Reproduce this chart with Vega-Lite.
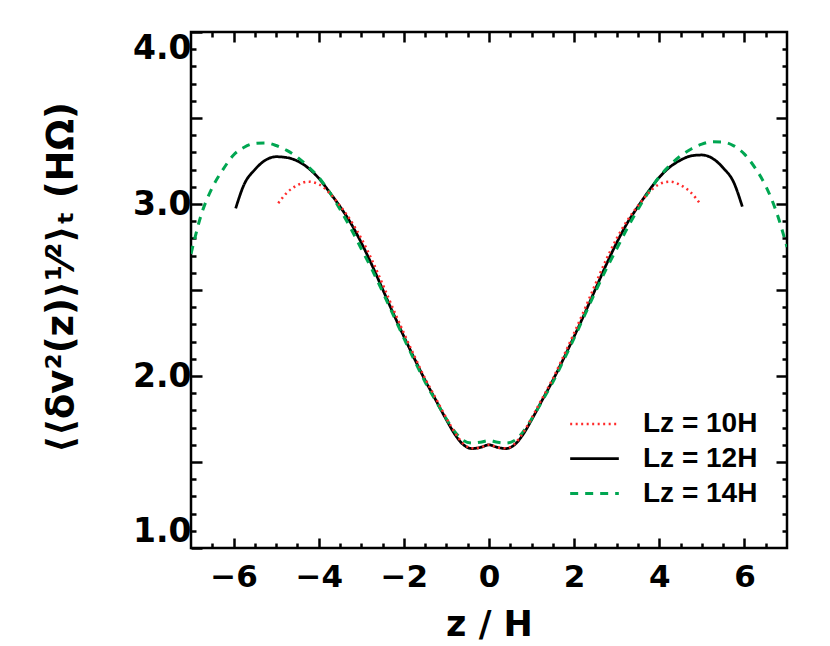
{
  "$schema": "https://vega.github.io/schema/vega-lite/v6.json",
  "width": 596,
  "height": 516,
  "autosize": {"type": "none"},
  "padding": {"left": 191, "top": 32, "right": 43, "bottom": 98},
  "background": "white",
  "config": {
    "view": {"stroke": "black", "strokeWidth": 2.5},
    "axis": {
      "domain": false, "grid": false, "tickColor": "black", "tickWidth": 2.5,
      "labelColor": "black", "titleColor": "black",
      "labelFont": "DejaVu Sans", "titleFont": "DejaVu Sans",
      "labelFontWeight": "bold", "titleFontWeight": "bold"
    }
  },
  "datasets": {
    "curves": [
      {"series": "Lz = 12H", "z": -5.95, "v": 2.975},
      {"series": "Lz = 12H", "z": -5.75, "v": 3.115},
      {"series": "Lz = 12H", "z": -5.5, "v": 3.2},
      {"series": "Lz = 12H", "z": -5.25, "v": 3.255},
      {"series": "Lz = 12H", "z": -5.0, "v": 3.275},
      {"series": "Lz = 12H", "z": -4.75, "v": 3.27},
      {"series": "Lz = 12H", "z": -4.5, "v": 3.25},
      {"series": "Lz = 12H", "z": -4.25, "v": 3.21},
      {"series": "Lz = 12H", "z": -4.0, "v": 3.15},
      {"series": "Lz = 12H", "z": -3.75, "v": 3.07},
      {"series": "Lz = 12H", "z": -3.5, "v": 2.985},
      {"series": "Lz = 12H", "z": -3.25, "v": 2.89},
      {"series": "Lz = 12H", "z": -3.0, "v": 2.775},
      {"series": "Lz = 12H", "z": -2.75, "v": 2.645},
      {"series": "Lz = 12H", "z": -2.5, "v": 2.505},
      {"series": "Lz = 12H", "z": -2.25, "v": 2.365},
      {"series": "Lz = 12H", "z": -2.0, "v": 2.23},
      {"series": "Lz = 12H", "z": -1.75, "v": 2.1},
      {"series": "Lz = 12H", "z": -1.5, "v": 1.975},
      {"series": "Lz = 12H", "z": -1.25, "v": 1.86},
      {"series": "Lz = 12H", "z": -1.0, "v": 1.745},
      {"series": "Lz = 12H", "z": -0.8, "v": 1.66},
      {"series": "Lz = 12H", "z": -0.6, "v": 1.6},
      {"series": "Lz = 12H", "z": -0.4, "v": 1.578},
      {"series": "Lz = 12H", "z": -0.2, "v": 1.585},
      {"series": "Lz = 12H", "z": 0.0, "v": 1.6},
      {"series": "Lz = 12H", "z": 0.2, "v": 1.585},
      {"series": "Lz = 12H", "z": 0.4, "v": 1.578},
      {"series": "Lz = 12H", "z": 0.6, "v": 1.6},
      {"series": "Lz = 12H", "z": 0.8, "v": 1.66},
      {"series": "Lz = 12H", "z": 1.0, "v": 1.745},
      {"series": "Lz = 12H", "z": 1.25, "v": 1.86},
      {"series": "Lz = 12H", "z": 1.5, "v": 1.975},
      {"series": "Lz = 12H", "z": 1.75, "v": 2.1},
      {"series": "Lz = 12H", "z": 2.0, "v": 2.23},
      {"series": "Lz = 12H", "z": 2.25, "v": 2.365},
      {"series": "Lz = 12H", "z": 2.5, "v": 2.505},
      {"series": "Lz = 12H", "z": 2.75, "v": 2.645},
      {"series": "Lz = 12H", "z": 3.0, "v": 2.775},
      {"series": "Lz = 12H", "z": 3.25, "v": 2.89},
      {"series": "Lz = 12H", "z": 3.5, "v": 2.985},
      {"series": "Lz = 12H", "z": 3.75, "v": 3.075},
      {"series": "Lz = 12H", "z": 4.0, "v": 3.155},
      {"series": "Lz = 12H", "z": 4.25, "v": 3.215},
      {"series": "Lz = 12H", "z": 4.5, "v": 3.255},
      {"series": "Lz = 12H", "z": 4.75, "v": 3.28},
      {"series": "Lz = 12H", "z": 5.0, "v": 3.285},
      {"series": "Lz = 12H", "z": 5.25, "v": 3.265},
      {"series": "Lz = 12H", "z": 5.5, "v": 3.21},
      {"series": "Lz = 12H", "z": 5.75, "v": 3.125},
      {"series": "Lz = 12H", "z": 5.95, "v": 2.985},

      {"series": "Lz = 14H", "z": -7.0, "v": 2.71},
      {"series": "Lz = 14H", "z": -6.75, "v": 2.945},
      {"series": "Lz = 14H", "z": -6.5, "v": 3.095},
      {"series": "Lz = 14H", "z": -6.25, "v": 3.2},
      {"series": "Lz = 14H", "z": -6.0, "v": 3.285},
      {"series": "Lz = 14H", "z": -5.75, "v": 3.33},
      {"series": "Lz = 14H", "z": -5.5, "v": 3.352},
      {"series": "Lz = 14H", "z": -5.25, "v": 3.355},
      {"series": "Lz = 14H", "z": -5.0, "v": 3.34},
      {"series": "Lz = 14H", "z": -4.75, "v": 3.312},
      {"series": "Lz = 14H", "z": -4.5, "v": 3.272},
      {"series": "Lz = 14H", "z": -4.25, "v": 3.218},
      {"series": "Lz = 14H", "z": -4.0, "v": 3.155},
      {"series": "Lz = 14H", "z": -3.75, "v": 3.07},
      {"series": "Lz = 14H", "z": -3.5, "v": 2.97},
      {"series": "Lz = 14H", "z": -3.25, "v": 2.86},
      {"series": "Lz = 14H", "z": -3.0, "v": 2.74},
      {"series": "Lz = 14H", "z": -2.75, "v": 2.62},
      {"series": "Lz = 14H", "z": -2.5, "v": 2.49},
      {"series": "Lz = 14H", "z": -2.25, "v": 2.355},
      {"series": "Lz = 14H", "z": -2.0, "v": 2.22},
      {"series": "Lz = 14H", "z": -1.75, "v": 2.09},
      {"series": "Lz = 14H", "z": -1.5, "v": 1.965},
      {"series": "Lz = 14H", "z": -1.25, "v": 1.855},
      {"series": "Lz = 14H", "z": -1.0, "v": 1.75},
      {"series": "Lz = 14H", "z": -0.8, "v": 1.675},
      {"series": "Lz = 14H", "z": -0.6, "v": 1.625},
      {"series": "Lz = 14H", "z": -0.4, "v": 1.61},
      {"series": "Lz = 14H", "z": -0.2, "v": 1.615},
      {"series": "Lz = 14H", "z": 0.0, "v": 1.625},
      {"series": "Lz = 14H", "z": 0.2, "v": 1.615},
      {"series": "Lz = 14H", "z": 0.4, "v": 1.61},
      {"series": "Lz = 14H", "z": 0.6, "v": 1.625},
      {"series": "Lz = 14H", "z": 0.8, "v": 1.675},
      {"series": "Lz = 14H", "z": 1.0, "v": 1.75},
      {"series": "Lz = 14H", "z": 1.25, "v": 1.855},
      {"series": "Lz = 14H", "z": 1.5, "v": 1.965},
      {"series": "Lz = 14H", "z": 1.75, "v": 2.09},
      {"series": "Lz = 14H", "z": 2.0, "v": 2.22},
      {"series": "Lz = 14H", "z": 2.25, "v": 2.355},
      {"series": "Lz = 14H", "z": 2.5, "v": 2.49},
      {"series": "Lz = 14H", "z": 2.75, "v": 2.62},
      {"series": "Lz = 14H", "z": 3.0, "v": 2.74},
      {"series": "Lz = 14H", "z": 3.25, "v": 2.86},
      {"series": "Lz = 14H", "z": 3.5, "v": 2.97},
      {"series": "Lz = 14H", "z": 3.75, "v": 3.07},
      {"series": "Lz = 14H", "z": 4.0, "v": 3.158},
      {"series": "Lz = 14H", "z": 4.25, "v": 3.225},
      {"series": "Lz = 14H", "z": 4.5, "v": 3.28},
      {"series": "Lz = 14H", "z": 4.75, "v": 3.32},
      {"series": "Lz = 14H", "z": 5.0, "v": 3.348},
      {"series": "Lz = 14H", "z": 5.25, "v": 3.362},
      {"series": "Lz = 14H", "z": 5.5, "v": 3.36},
      {"series": "Lz = 14H", "z": 5.75, "v": 3.338},
      {"series": "Lz = 14H", "z": 6.0, "v": 3.29},
      {"series": "Lz = 14H", "z": 6.25, "v": 3.21},
      {"series": "Lz = 14H", "z": 6.5, "v": 3.105},
      {"series": "Lz = 14H", "z": 6.75, "v": 2.955},
      {"series": "Lz = 14H", "z": 7.0, "v": 2.75},

      {"series": "Lz = 10H", "z": -4.95, "v": 3.005},
      {"series": "Lz = 10H", "z": -4.75, "v": 3.065},
      {"series": "Lz = 10H", "z": -4.5, "v": 3.11},
      {"series": "Lz = 10H", "z": -4.25, "v": 3.13},
      {"series": "Lz = 10H", "z": -4.0, "v": 3.115},
      {"series": "Lz = 10H", "z": -3.75, "v": 3.065},
      {"series": "Lz = 10H", "z": -3.5, "v": 2.99},
      {"series": "Lz = 10H", "z": -3.25, "v": 2.905},
      {"series": "Lz = 10H", "z": -3.0, "v": 2.8},
      {"series": "Lz = 10H", "z": -2.75, "v": 2.675},
      {"series": "Lz = 10H", "z": -2.5, "v": 2.535},
      {"series": "Lz = 10H", "z": -2.25, "v": 2.39},
      {"series": "Lz = 10H", "z": -2.0, "v": 2.25},
      {"series": "Lz = 10H", "z": -1.75, "v": 2.115},
      {"series": "Lz = 10H", "z": -1.5, "v": 1.985},
      {"series": "Lz = 10H", "z": -1.25, "v": 1.87},
      {"series": "Lz = 10H", "z": -1.0, "v": 1.755},
      {"series": "Lz = 10H", "z": -0.8, "v": 1.67},
      {"series": "Lz = 10H", "z": -0.6, "v": 1.605},
      {"series": "Lz = 10H", "z": -0.4, "v": 1.58},
      {"series": "Lz = 10H", "z": -0.2, "v": 1.585},
      {"series": "Lz = 10H", "z": 0.0, "v": 1.6},
      {"series": "Lz = 10H", "z": 0.2, "v": 1.585},
      {"series": "Lz = 10H", "z": 0.4, "v": 1.58},
      {"series": "Lz = 10H", "z": 0.6, "v": 1.605},
      {"series": "Lz = 10H", "z": 0.8, "v": 1.67},
      {"series": "Lz = 10H", "z": 1.0, "v": 1.755},
      {"series": "Lz = 10H", "z": 1.25, "v": 1.87},
      {"series": "Lz = 10H", "z": 1.5, "v": 1.985},
      {"series": "Lz = 10H", "z": 1.75, "v": 2.115},
      {"series": "Lz = 10H", "z": 2.0, "v": 2.25},
      {"series": "Lz = 10H", "z": 2.25, "v": 2.39},
      {"series": "Lz = 10H", "z": 2.5, "v": 2.535},
      {"series": "Lz = 10H", "z": 2.75, "v": 2.675},
      {"series": "Lz = 10H", "z": 3.0, "v": 2.8},
      {"series": "Lz = 10H", "z": 3.25, "v": 2.905},
      {"series": "Lz = 10H", "z": 3.5, "v": 2.99},
      {"series": "Lz = 10H", "z": 3.75, "v": 3.065},
      {"series": "Lz = 10H", "z": 4.0, "v": 3.115},
      {"series": "Lz = 10H", "z": 4.25, "v": 3.13},
      {"series": "Lz = 10H", "z": 4.5, "v": 3.11},
      {"series": "Lz = 10H", "z": 4.75, "v": 3.065},
      {"series": "Lz = 10H", "z": 4.95, "v": 3.005}
    ]
  },
  "data": {"name": "curves"},
  "layer": [
    {
      "mark": {"type": "line", "clip": true, "interpolate": "monotone"},
      "encoding": {
        "x": {
          "field": "z", "type": "quantitative",
          "scale": {"domain": [-7, 7], "nice": false, "zero": false},
          "axis": {
            "orient": "bottom", "values": [-6, -4, -2, 0, 2, 4, 6], "format": "d",
            "tickSize": -10, "labelFontSize": 31, "labelPadding": 24,
            "title": "z / H", "titleFontSize": 35, "titlePadding": 15
          }
        },
        "y": {
          "field": "v", "type": "quantitative",
          "scale": {"domain": [1, 4], "nice": false, "zero": false},
          "axis": {
            "orient": "left", "values": [1, 1.5, 2, 2.5, 3, 3.5, 4],
            "labelExpr": "datum.value % 1 === 0 ? format(datum.value, '.1f') : ''",
            "labelFlush": true, "labelFlushOffset": 0,
            "tickSize": -11, "labelFontSize": 33, "labelPadding": 11,
            "title": "⟨⟨δv²(z)⟩¹⁄²⟩ₜ   (HΩ)", "titleFontSize": 37,
            "titleX": -111, "titleY": 245, "titleBaseline": "bottom", "titleAlign": "center"
          }
        },
        "color": {
          "field": "series", "type": "nominal",
          "scale": {"domain": ["Lz = 10H", "Lz = 12H", "Lz = 14H"], "range": ["#ff2a2a", "#000000", "#00a651"]},
          "legend": {
            "orient": "none", "legendX": 383, "legendY": 372, "title": null,
            "symbolType": "M-1.3,0H1.3", "symbolSize": 1400,
            "labelFontSize": 28, "labelFont": "Liberation Sans", "labelFontWeight": "bold",
            "labelColor": "black", "labelOffset": 28, "rowPadding": 0, "padding": 0
          }
        },
        "strokeDash": {
          "field": "series", "type": "nominal",
          "scale": {"domain": ["Lz = 10H", "Lz = 12H", "Lz = 14H"], "range": [[2, 3.5], [1, 0], [8, 7]]}
        },
        "strokeWidth": {
          "field": "series", "type": "nominal",
          "scale": {"domain": ["Lz = 10H", "Lz = 12H", "Lz = 14H"], "range": [2.5, 3, 4]}
        }
      }
    },
    {
      "mark": {"type": "point", "opacity": 0},
      "encoding": {
        "x": {"field": "z", "type": "quantitative",
          "axis": {"orient": "bottom", "values": [-6.5, -5.5, -5, -4.5, -3.5, -3, -2.5, -1.5, -1, -0.5, 0.5, 1, 1.5, 2.5, 3, 3.5, 4.5, 5, 5.5, 6.5],
            "tickSize": -5, "labels": false, "title": null}},
        "y": {"field": "v", "type": "quantitative",
          "axis": {"orient": "left", "values": [1.1, 1.2, 1.3, 1.4, 1.6, 1.7, 1.8, 1.9, 2.1, 2.2, 2.3, 2.4, 2.6, 2.7, 2.8, 2.9, 3.1, 3.2, 3.3, 3.4, 3.6, 3.7, 3.8, 3.9],
            "tickSize": -5, "labels": false, "title": null}}
      }
    },
    {
      "mark": {"type": "point", "opacity": 0},
      "encoding": {
        "x": {"field": "z", "type": "quantitative",
          "axis": {"orient": "top", "values": [-6, -4, -2, 0, 2, 4, 6], "tickSize": -10, "labels": false, "title": null}},
        "y": {"field": "v", "type": "quantitative",
          "axis": {"orient": "right", "values": [1.5, 2, 2.5, 3, 3.5], "tickSize": -11, "labels": false, "title": null}}
      }
    },
    {
      "mark": {"type": "point", "opacity": 0},
      "encoding": {
        "x": {"field": "z", "type": "quantitative",
          "axis": {"orient": "top", "values": [-6.5, -5.5, -5, -4.5, -3.5, -3, -2.5, -1.5, -1, -0.5, 0.5, 1, 1.5, 2.5, 3, 3.5, 4.5, 5, 5.5, 6.5],
            "tickSize": -5, "labels": false, "title": null}},
        "y": {"field": "v", "type": "quantitative",
          "axis": {"orient": "right", "values": [1.1, 1.2, 1.3, 1.4, 1.6, 1.7, 1.8, 1.9, 2.1, 2.2, 2.3, 2.4, 2.6, 2.7, 2.8, 2.9, 3.1, 3.2, 3.3, 3.4, 3.6, 3.7, 3.8, 3.9],
            "tickSize": -5, "labels": false, "title": null}}
      }
    }
  ],
  "resolve": {"axis": {"x": "independent", "y": "independent"}}
}
